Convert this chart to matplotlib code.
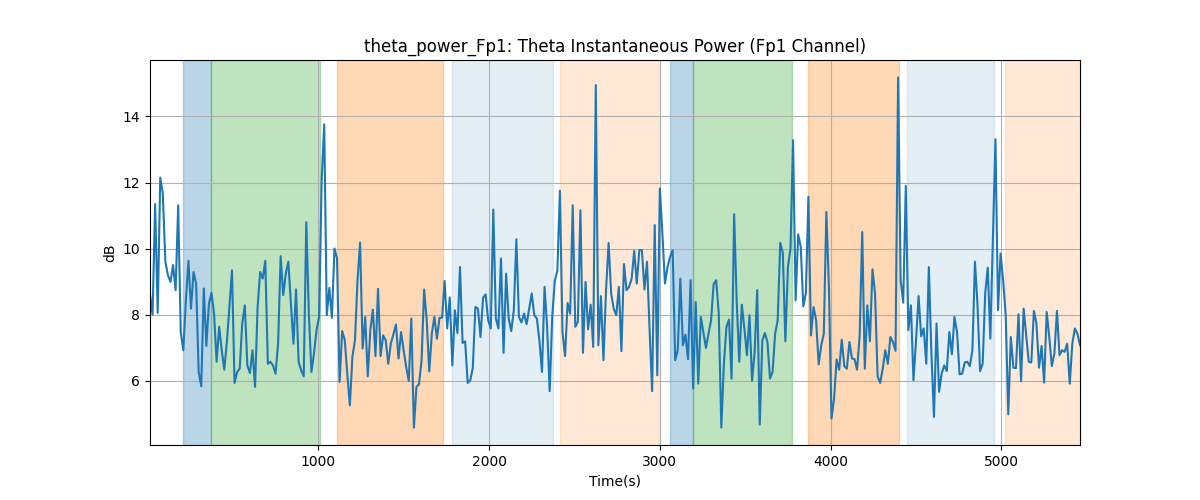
#!/usr/bin/env python3
"""Theta instantaneous power on Fp1, with the task epochs shaded behind it."""
import numpy as np
import matplotlib
matplotlib.use('Agg')
import matplotlib.pyplot as plt

# one sample every 15 s
STEP = 15

power_db = [
    8.6, 8.0, 11.35, 8.05, 12.15, 11.67, 9.6, 9.19, 8.99, 9.5,
    8.74, 11.31, 7.47, 6.92, 8.43, 9.63, 8.18, 9.29, 8.94, 6.26,
    5.83, 8.79, 7.05, 8.33, 8.66, 8.03, 6.57, 7.63, 6.92, 6.33,
    7.17, 8.23, 9.34, 5.93, 6.26, 6.36, 7.73, 8.28, 6.46, 6.23,
    6.92, 5.81, 8.23, 9.29, 9.09, 9.63, 6.51, 6.57, 6.46, 6.21,
    7.12, 9.77, 8.59, 9.24, 9.6, 8.33, 7.12, 8.76, 6.57, 6.31,
    6.13, 10.8, 8.03, 6.26, 6.82, 7.53, 7.93, 12.07, 13.76, 7.98,
    8.81, 7.9, 10.0, 9.7, 5.96, 7.5, 7.24, 6.21, 5.25, 6.72,
    7.22, 9.04, 10.18, 6.97, 7.93, 6.13, 7.53, 8.15, 6.74, 8.78,
    6.74, 7.37, 7.22, 6.51, 7.12, 7.40, 7.70, 6.67, 7.47, 6.92,
    6.41, 5.99, 7.88, 4.58, 5.81, 5.89, 6.62, 8.76, 7.83, 6.28,
    7.42, 7.93, 7.27, 7.9, 7.91, 9.02, 7.58, 8.52, 6.46, 8.13,
    7.44, 9.44, 7.14, 7.19, 5.93, 6.01, 6.39, 8.23, 8.18, 7.32,
    8.51, 8.61, 7.83, 7.58, 11.18, 7.88, 7.58, 9.7, 6.84, 9.24,
    7.88, 7.5, 8.13, 10.28, 7.93, 7.76, 8.03, 7.71, 8.18, 8.64,
    7.98, 7.88, 7.22, 6.26, 8.84, 7.63, 5.68, 7.93, 9.02, 9.34,
    11.75, 7.47, 6.74, 8.35, 8.03, 11.31, 7.63, 7.78, 11.16, 6.84,
    8.99, 7.55, 8.3, 7.02, 14.95, 7.07, 8.56, 6.62, 8.74, 10.17,
    8.64, 8.18, 7.98, 8.84, 6.89, 9.53, 8.74, 8.84, 9.09, 9.93,
    8.94, 9.95, 9.95, 8.76, 9.6, 7.53, 5.68, 10.71, 6.16, 11.82,
    10.45, 8.94, 9.44, 9.75, 9.95, 6.62, 6.92, 9.09, 7.07, 7.39,
    6.65, 9.04, 5.76, 8.38, 5.91, 7.93, 7.47, 6.99, 7.42, 7.83,
    8.92, 9.04, 8.03, 4.58, 6.51, 7.63, 7.85, 6.06, 11.04, 8.4,
    6.57, 8.3, 7.58, 6.77, 7.98, 5.99, 6.87, 8.74, 4.67, 7.22,
    7.44, 7.17, 6.06, 6.26, 7.42, 7.83, 10.17, 9.87, 7.19, 9.44,
    10.0, 13.28, 8.43, 10.43, 10.05, 8.25, 8.64, 11.57, 7.37, 8.23,
    7.83, 6.49, 7.07, 7.42, 11.11, 8.84, 4.85, 5.45, 6.64, 6.33,
    7.24, 6.44, 6.36, 7.17, 6.67, 6.65, 6.33, 7.37, 10.5, 6.36,
    8.28, 7.19, 9.37, 8.64, 6.13, 5.93, 6.36, 6.92, 6.51, 7.32,
    7.17, 6.9, 15.18, 9.04, 8.36, 11.9, 7.53, 8.28, 6.01, 7.22,
    8.56, 7.34, 7.58, 6.51, 9.44, 6.82, 4.9, 7.73, 5.66, 6.21,
    6.46, 6.29, 7.47, 6.8, 7.93, 7.47, 6.19, 6.21, 6.55, 6.57,
    6.44, 6.92, 9.6, 8.28, 6.29, 6.51, 8.64, 9.42, 7.27, 10.3,
    13.31, 8.13, 9.85, 9.04, 7.98, 4.98, 7.32, 6.39, 6.38, 8.01,
    5.98, 8.18, 7.37, 6.57, 6.55, 8.11, 7.73, 6.39, 7.05, 5.94,
    8.08, 7.32, 6.44, 6.82, 8.11, 6.77, 6.92, 6.87, 7.12, 5.91,
    7.12, 7.58, 7.42, 7.07,
]

# shaded epochs (seconds)
span_start = [208, 370, 1109, 1783, 2415, 3060, 3196, 3870, 4448, 5018]
span_end = [370, 1012, 1730, 2374, 3003, 3196, 3774, 4401, 4957, 5500]
span_kind = ['blue', 'green', 'orange', 'pale_blue', 'pale_orange',
             'blue', 'green', 'orange', 'pale_blue', 'pale_orange']

SPAN_STYLE = {
    'blue': ('C0', 0.3),
    'green': ('C2', 0.3),
    'orange': ('C1', 0.3),
    'pale_blue': ('C0', 0.12),
    'pale_orange': ('C1', 0.17),
}

power = np.array(power_db)
t = STEP * np.arange(1, len(power) + 1)

fig, ax = plt.subplots(figsize=(12, 5), dpi=100)

for s, e, k in zip(span_start, span_end, span_kind):
    color, alpha = SPAN_STYLE[k]
    ax.axvspan(s, e, color=color, alpha=alpha)

ax.plot(t, power, color='C0')
ax.set_xlim(t[0], t[-1])
ax.grid(True)
ax.set_title('theta_power_Fp1: Theta Instantaneous Power (Fp1 Channel)')
ax.set_xlabel('Time(s)')
ax.set_ylabel('dB')

fig.savefig('out.png')
